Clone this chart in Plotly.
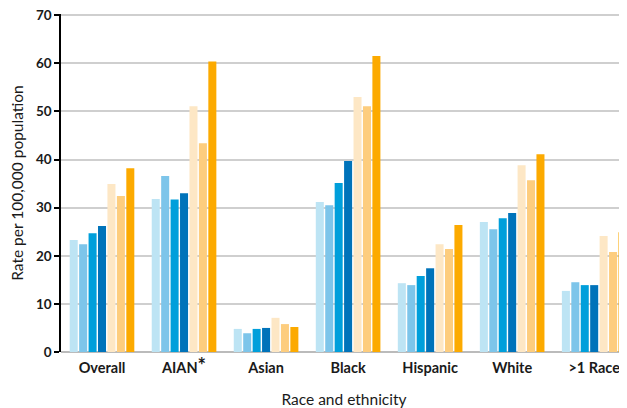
import plotly.graph_objects as go

categories = ["Overall", "AIAN<span style='font-size:20px'>*</span>", "Asian", "Black", "Hispanic", "White", ">1 Race"]

series_names = ["Year 1", "Year 2", "Year 3", "Year 4", "Year 5", "Year 6", "Year 7"]
series_colors = ["#bde4f4", "#7dc5ea", "#009fdb", "#0073ba", "#fde7c5", "#fdcd7e", "#fcaa00"]

s1 = [23.3, 31.8, 4.8, 31.2, 14.3, 27.0, 12.7]
s2 = [22.4, 36.6, 3.9, 30.5, 13.9, 25.5, 14.5]
s3 = [24.7, 31.7, 4.8, 35.1, 15.8, 27.8, 13.9]
s4 = [26.2, 33.0, 5.0, 39.7, 17.4, 28.9, 13.9]
s5 = [34.9, 51.1, 7.1, 53.0, 22.4, 38.8, 24.1]
s6 = [32.4, 43.4, 5.8, 51.1, 21.4, 35.7, 20.8]
s7 = [38.2, 60.4, 5.2, 61.5, 26.4, 41.1, 24.9]
series_values = [s1, s2, s3, s4, s5, s6, s7]

y_ticks = [0, 10, 20, 30, 40, 50, 60, 70]

FONT = "Lato, sans-serif"

fig = go.Figure()
for name, color, vals in zip(series_names, series_colors, series_values):
    fig.add_trace(go.Bar(x=list(range(len(categories))), y=vals, name=name,
                         marker=dict(color=color, line=dict(width=0))))

# page body has an 8px default margin; size the figure to fit the 627x408 window
fig.update_layout(
    width=619, height=400,
    margin=dict(l=53, r=0, t=6, b=56),
    paper_bgcolor="white", plot_bgcolor="white",
    barmode="group", bargap=0.195, bargroupgap=0.15,
    showlegend=False,
    font=dict(family=FONT, color="#1a1a1a"),
)
fig.update_xaxes(
    tickmode="array", tickvals=list(range(len(categories))), ticktext=categories,
    range=[-0.5, 6.4], automargin=False,
    tickfont=dict(size=14.5, family=FONT, color="#1a1a1a", weight="bold"),
    ticklabelstandoff=5, ticklabeloverflow="allow",
    showgrid=False, showline=False, zeroline=False, ticks="",
    title=dict(text="Race and ethnicity", font=dict(size=15.5, family=FONT, color="#1a1a1a"), standoff=24),
)
fig.update_yaxes(
    range=[0, 70.25], tickvals=y_ticks, automargin=False,
    tickfont=dict(size=13.5, family=FONT, color="#1a1a1a", weight="bold"),
    ticklabeloverflow="allow",
    showgrid=True, gridcolor="#cfcfcf", gridwidth=1.5,
    zeroline=True, zerolinecolor="#bbbbbb", zerolinewidth=1.5,
    showline=True, linecolor="black", linewidth=1.5,
    ticks="outside", ticklen=5, tickcolor="black", tickwidth=1.5,
    title=dict(text="Rate per 100,000 population", font=dict(size=15.5, family=FONT, color="#1a1a1a"), standoff=12),
)

fig.write_html("out.html")
